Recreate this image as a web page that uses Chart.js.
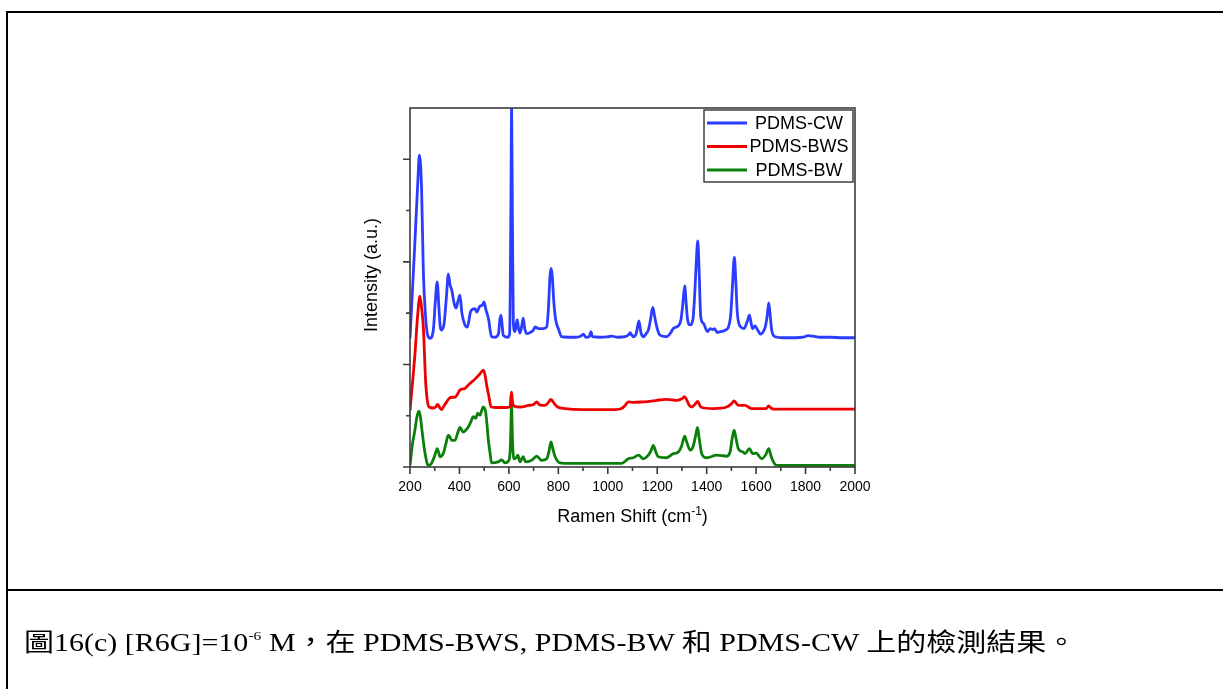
<!DOCTYPE html>
<html>
<head>
<meta charset="utf-8">
<script src="https://cdn.jsdelivr.net/npm/chart.js@4/dist/chart.umd.min.js"></script>
<style>
  html, body { margin: 0; padding: 0; background: #fff; }
  #wrap { position: relative; width: 1223px; height: 689px; overflow: hidden; }
  #c { position: absolute; left: 0; top: 0; }
  .rule { position: absolute; background: #000; }
  #caption {
    position: absolute; left: 24px; top: 630px;
    font-family: "Liberation Serif", "Noto Sans CJK TC", serif;
    font-size: 25px; line-height: 25px; color: #000; white-space: nowrap;
    transform: scaleX(1.2); transform-origin: 0 0;
  }
  #caption sup { font-size: 13px; vertical-align: 11px; line-height: 0; }
</style>
</head>
<body>
<div id="wrap">
  <div class="rule" style="left:6px; top:11px; width:1217px; height:2px;"></div>
  <div class="rule" style="left:6px; top:11px; width:2px; height:678px;"></div>
  <div class="rule" style="left:6px; top:589px; width:1217px; height:2px;"></div>
  <canvas id="c" width="1223" height="689"></canvas>
  <div id="caption">圖16(c) [R6G]=10<sup>-6</sup> M，在 PDMS-BWS, PDMS-BW 和 PDMS-CW 上的檢測結果。</div>
</div>
<script>
// ---------------- data ----------------
const seriesLabels = ["PDMS-CW", "PDMS-BWS", "PDMS-BW"];
const seriesColors = ["#2a3cff", "#ee0000", "#0a800a"];

const cwShift = [200,220,232,238,247,254,263,270,281,295,302,310,317,322,328,338,347,355,362,369,378,386,395,402,410,422,432,445,455,463,470,483,492,499,508,517,530,544,558,563,568,573,577,595,603,608,611,614,618,625,630,634,639,645,652,658,664,672,685,699,706,720,740,753,760,766,770,775,782,790,800,813,840,870,890,901,912,925,932,938,970,1000,1016,1040,1070,1085,1090,1096,1104,1115,1126,1134,1144,1155,1164,1172,1182,1189,1195,1203,1211,1238,1255,1265,1285,1296,1304,1311,1317,1322,1333,1345,1352,1358,1364,1369,1376,1387,1403,1415,1424,1432,1443,1455,1467,1480,1488,1497,1504,1512,1518,1524,1538,1551,1565,1573,1580,1586,1596,1605,1619,1630,1637,1645,1651,1657,1663,1677,1710,1760,1790,1811,1830,1858,1900,1950,2000];
const cwIntensity = [2.51,4.4,5.6,6.08,5.4,3.8,2.93,2.6,2.51,2.7,3.2,3.61,3.1,2.75,2.67,2.8,3.3,3.76,3.55,3.45,3.2,3.1,3.25,3.35,3.0,2.77,2.73,3.03,3.08,3.09,3.02,3.14,3.15,3.22,3.05,2.9,2.54,2.53,2.6,2.85,2.96,2.75,2.57,2.53,2.6,5.0,7.0,5.0,2.8,2.64,2.8,2.87,2.7,2.61,2.75,2.9,2.7,2.6,2.62,2.67,2.73,2.7,2.7,2.73,3.1,3.7,3.87,3.75,3.2,2.85,2.7,2.54,2.53,2.53,2.55,2.59,2.53,2.54,2.64,2.54,2.53,2.54,2.55,2.53,2.54,2.58,2.62,2.58,2.54,2.6,2.85,2.62,2.54,2.6,2.67,2.85,3.11,2.95,2.8,2.65,2.57,2.54,2.62,2.7,2.75,2.87,3.2,3.53,3.2,2.9,2.77,2.9,3.4,4.0,4.41,3.9,2.93,2.8,2.64,2.7,2.68,2.7,2.62,2.64,2.65,2.68,2.73,2.95,3.5,4.09,3.6,3.0,2.73,2.7,2.85,2.96,2.8,2.7,2.75,2.68,2.59,2.65,2.73,2.95,3.2,2.95,2.67,2.54,2.52,2.52,2.53,2.56,2.55,2.53,2.53,2.52,2.52];

const bwsShift = [200,220,230,240,247,254,263,270,277,294,304,312,320,328,336,344,359,370,382,392,402,412,422,436,450,460,470,480,490,497,504,510,519,528,551,591,605,608,611,614,620,645,679,700,713,722,735,750,760,770,780,797,827,895,960,1029,1056,1070,1083,1103,1144,1170,1198,1238,1279,1300,1310,1320,1330,1340,1352,1364,1372,1380,1427,1481,1500,1511,1520,1528,1555,1582,1640,1651,1660,1670,1800,1900,2000];
const bwsIntensity = [1.1,2.2,2.9,3.33,3.1,2.73,1.69,1.3,1.17,1.15,1.17,1.22,1.16,1.12,1.18,1.24,1.34,1.36,1.36,1.42,1.5,1.52,1.53,1.6,1.66,1.7,1.75,1.8,1.86,1.89,1.78,1.6,1.38,1.17,1.16,1.16,1.18,1.35,1.46,1.3,1.19,1.17,1.2,1.22,1.27,1.22,1.2,1.21,1.26,1.32,1.26,1.17,1.14,1.12,1.12,1.12,1.14,1.2,1.27,1.26,1.27,1.28,1.3,1.32,1.3,1.33,1.37,1.3,1.2,1.17,1.22,1.28,1.2,1.16,1.14,1.17,1.23,1.29,1.24,1.2,1.2,1.14,1.14,1.19,1.15,1.13,1.13,1.13,1.13];

const bwShift = [200,210,220,228,236,242,247,254,261,274,288,300,310,316,321,335,345,355,362,369,382,392,402,416,426,436,446,456,466,474,483,490,496,506,512,517,523,530,557,571,584,600,606,611,614,620,630,636,645,652,658,665,672,692,713,733,753,762,770,778,787,807,850,895,960,1016,1056,1083,1103,1124,1144,1164,1175,1184,1194,1204,1238,1265,1285,1298,1311,1320,1333,1345,1355,1363,1370,1380,1400,1441,1481,1495,1503,1511,1519,1528,1548,1555,1573,1586,1600,1623,1640,1651,1660,1667,1683,2000];
const bwIntensity = [0.03,0.45,0.72,0.98,1.09,0.98,0.78,0.5,0.26,0.03,0.08,0.22,0.36,0.28,0.2,0.27,0.45,0.62,0.58,0.52,0.52,0.65,0.77,0.68,0.72,0.78,0.88,0.98,0.95,1.05,1.01,1.1,1.17,1.07,0.8,0.52,0.3,0.08,0.1,0.14,0.08,0.13,0.4,1.21,0.6,0.16,0.18,0.23,0.1,0.16,0.2,0.12,0.1,0.13,0.21,0.13,0.16,0.3,0.49,0.35,0.2,0.08,0.07,0.07,0.07,0.07,0.07,0.16,0.18,0.23,0.16,0.23,0.32,0.42,0.3,0.2,0.18,0.26,0.29,0.4,0.6,0.48,0.33,0.4,0.6,0.77,0.55,0.26,0.18,0.23,0.21,0.3,0.55,0.72,0.55,0.36,0.29,0.26,0.36,0.26,0.27,0.16,0.25,0.36,0.22,0.13,0.03,0.03];

const xMajorTicks = [200,400,600,800,1000,1200,1400,1600,1800,2000];
const xMinorTicks = [300,500,700,900,1100,1300,1500,1700,1900];
const yMajorTicks = [0,2,4,6];
const yMinorTicks = [1,3,5];

const xTitle = "Ramen Shift (cm";
const xTitleSup = "-1";
const xTitleEnd = ")";
const yTitle = "Intensity (a.u.)";

// ---------------- build ----------------
function pts(xs, ys) { return xs.map((x, i) => ({ x: x, y: ys[i] })); }
const allShifts = [cwShift, bwsShift, bwShift];
const allInts = [cwIntensity, bwsIntensity, bwIntensity];

const datasets = seriesLabels.map((lab, i) => ({
  label: lab,
  data: pts(allShifts[i], allInts[i]),
  borderColor: seriesColors[i],
  backgroundColor: seriesColors[i],
  borderWidth: 2.8,
  pointRadius: 0,
  cubicInterpolationMode: 'monotone',
  fill: false
}));

const FONT = '"Liberation Sans", Arial, sans-serif';
const AXIS_COLOR = '#3c3c3c';

const framePlugin = {
  id: 'frame',
  afterDatasetsDraw(chart) {
    const { ctx, chartArea: a, scales } = chart;
    const xs = scales.x, ys = scales.y;
    ctx.save();
    ctx.strokeStyle = AXIS_COLOR;
    ctx.lineWidth = 1.6;
    ctx.strokeRect(a.left, a.top, a.right - a.left, a.bottom - a.top);
    ctx.beginPath();
    xMajorTicks.forEach(v => { const p = xs.getPixelForValue(v); ctx.moveTo(p, a.bottom); ctx.lineTo(p, a.bottom + 7); });
    xMinorTicks.forEach(v => { const p = xs.getPixelForValue(v); ctx.moveTo(p, a.bottom); ctx.lineTo(p, a.bottom + 4); });
    yMajorTicks.forEach(v => { const p = ys.getPixelForValue(v); ctx.moveTo(a.left, p); ctx.lineTo(a.left - 7, p); });
    yMinorTicks.forEach(v => { const p = ys.getPixelForValue(v); ctx.moveTo(a.left, p); ctx.lineTo(a.left - 4, p); });
    ctx.stroke();

    // axis titles
    ctx.fillStyle = '#000';
    ctx.font = '18px ' + FONT;
    ctx.textBaseline = 'alphabetic';
    const w1 = ctx.measureText(xTitle).width;
    ctx.font = '12px ' + FONT;
    const w2 = ctx.measureText(xTitleSup).width;
    ctx.font = '18px ' + FONT;
    const w3 = ctx.measureText(xTitleEnd).width;
    const cx = (a.left + a.right) / 2;
    let sx = cx - (w1 + w2 + w3) / 2;
    const by = a.bottom + 55;
    ctx.textAlign = 'left';
    ctx.fillText(xTitle, sx, by);
    ctx.font = '12px ' + FONT;
    ctx.fillText(xTitleSup, sx + w1, by - 7);
    ctx.font = '18px ' + FONT;
    ctx.fillText(xTitleEnd, sx + w1 + w2, by);

    ctx.save();
    ctx.translate(a.left - 38, 275);
    ctx.rotate(-Math.PI / 2);
    ctx.textAlign = 'center';
    ctx.textBaseline = 'middle';
    ctx.fillText(yTitle, 0, 0);
    ctx.restore();

    // legend box
    const lx = a.right - 151, ly = a.top + 2, lw = 149, lh = 72;
    ctx.fillStyle = '#fff';
    ctx.fillRect(lx, ly, lw, lh);
    ctx.strokeStyle = '#333';
    ctx.lineWidth = 1.4;
    ctx.strokeRect(lx, ly, lw, lh);
    ctx.font = '18px ' + FONT;
    ctx.textAlign = 'center';
    ctx.textBaseline = 'middle';
    chart.data.datasets.forEach((ds, i) => {
      const ry = ly + 13 + i * 23.5;
      ctx.strokeStyle = ds.borderColor;
      ctx.lineWidth = 2.8;
      ctx.beginPath();
      ctx.moveTo(lx + 3, ry);
      ctx.lineTo(lx + 43, ry);
      ctx.stroke();
      ctx.fillStyle = '#000';
      ctx.fillText(ds.label, lx + 95, ry + 1);
    });
    ctx.restore();
  }
};

new Chart(document.getElementById('c'), {
  type: 'line',
  data: { datasets: datasets },
  options: {
    responsive: false,
    animation: false,
    devicePixelRatio: 1,
    layout: { padding: { left: 410, top: 108, right: 368, bottom: 0 } },
    plugins: { legend: { display: false }, tooltip: { enabled: false } },
    scales: {
      x: {
        type: 'linear', min: 200, max: 2000,
        grid: { display: false },
        border: { display: false },
        ticks: { stepSize: 200, padding: 4, color: '#000', font: { family: FONT, size: 14 }, maxRotation: 0,
                 callback: (v) => String(v) },
        afterFit(scale) { scale.height = 222; }
      },
      y: {
        type: 'linear', min: 0, max: 7,
        grid: { display: false },
        border: { display: false },
        ticks: { display: false },
        afterFit(scale) { scale.width = 0; }
      }
    }
  },
  plugins: [framePlugin]
});
</script>
</body>
</html>
